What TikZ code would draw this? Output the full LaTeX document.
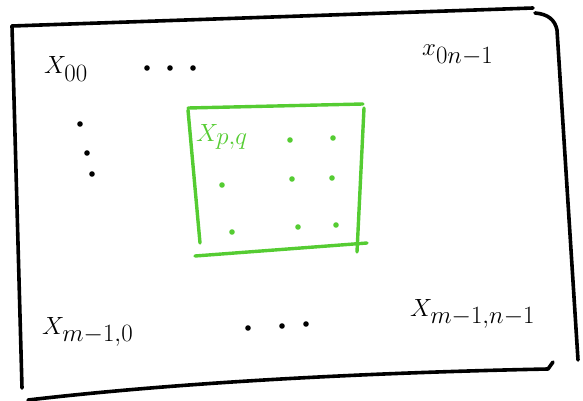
\documentclass[tikz,border=0pt]{standalone}
\usepackage{amsmath}
\definecolor{sketchgreen}{RGB}{85,204,50}
\tikzset{
  pen/.style={line width=3.6pt, line cap=round, line join=round, black},
  gpen/.style={line width=3.4pt, line cap=round, line join=round, sketchgreen},
  lbl/.style={inner sep=0pt, anchor=base west, font=\fontsize{40}{40}\selectfont},
  glbl/.style={lbl, text=sketchgreen},
  dotb/.style={fill=black, draw=none},
  dotg/.style={fill=sketchgreen, draw=none}
}
\begin{document}
\begin{tikzpicture}[x=1pt,y=-1pt]
\useasboundingbox (0,0) rectangle (583,401);
% outer frame
\draw[pen] (12,26) -- (533,8);
\draw[pen] (535,13) .. controls (548,14) and (555,20) .. (557,30) -- (578,360);
\draw[pen] (12,26) -- (22,388);
\draw[pen] (28,400) .. controls (200,380) and (400,372) .. (548,369) -- (553,362);
% green window
\draw[gpen] (188,108) -- (363,104);
\draw[gpen] (188,110) -- (200,243);
\draw[gpen] (364,108) -- (357,252);
\draw[gpen] (195,256) -- (367,243);
% labels
\node[lbl] (x00) at (44,74) {$X_{00}$};
\node[lbl] (x0n) at (422,56) {$x_{0n-1}$};
\node[lbl, font=\fontsize{34}{34}\selectfont] (xm0) at (42,334) {$X_{m-1,0}$};
\node[lbl, font=\fontsize{33}{33}\selectfont] (xmn) at (410,316) {$X_{m-1,n-1}$};
\node[glbl] (xpq) at (196,141) {$X_{p,q}$};
% black dots
\foreach \p in {(147,68),(170,68),(193,68),(80,124),(87,153),(92,174),(248,328),(282,326),(306,324)}
  \fill[dotb] \p circle (2.8);
% green dots
\foreach \p in {(290,140),(333,138),(222,185),(292,179),(332,178),(232,232),(298,227),(336,225)}
  \fill[dotg] \p circle (2.8);
\end{tikzpicture}
\end{document}
